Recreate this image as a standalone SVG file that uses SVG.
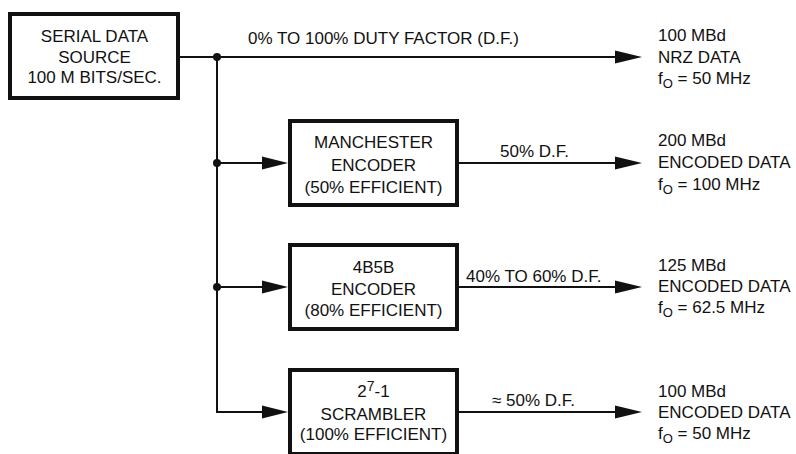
<svg xmlns="http://www.w3.org/2000/svg" width="796" height="454" viewBox="0 0 796 454">
<style>
text{font-family:"Liberation Sans",Arial,Helvetica,sans-serif;font-size:17px;fill:#111}
.c{text-anchor:middle}
.box{fill:#fff;stroke:#111;stroke-width:4}
.ln{stroke:#111;stroke-width:2;fill:none}
.ah{fill:#111}
.sub{font-size:13px}
.sup{font-size:14px}
</style>
<rect width="796" height="454" fill="#fff"/>
<g id="connectors">
<path class="ln" d="M180 57H620"/>
<path class="ln" d="M217 57V412H266"/>
<path class="ln" d="M217 163H266"/>
<path class="ln" d="M217 287H266"/>
<path class="ln" d="M459 163H620"/>
<path class="ln" d="M459 287H620"/>
<path class="ln" d="M459 412H620"/>
<circle cx="217" cy="57" r="4" class="ah"/>
<circle cx="217" cy="163" r="4" class="ah"/>
<circle cx="217" cy="287" r="4" class="ah"/>
<polygon class="ah" points="615,50.5 642,57 615,63.5"/>
<polygon class="ah" points="615,156.5 642,163 615,169.5"/>
<polygon class="ah" points="615,280.5 642,287 615,293.5"/>
<polygon class="ah" points="615,405.5 642,412 615,418.5"/>
<polygon class="ah" points="262,156.5 288,163 262,169.5"/>
<polygon class="ah" points="262,280.5 288,287 262,293.5"/>
<polygon class="ah" points="262,405.5 288,412 262,418.5"/>
<text x="248" y="44">0% TO 100% DUTY FACTOR (D.F.)</text>
<text x="500" y="157">50% D.F.</text>
<text x="466" y="282">40% TO 60% D.F.</text>
<text x="492" y="406">≈ 50% D.F.</text>
</g>
<g id="source">
<rect class="box" x="10" y="14" width="168" height="84"/>
<text class="c" x="94.5" y="42">SERIAL DATA</text>
<text class="c" x="94.5" y="63">SOURCE</text>
<text class="c" x="94.5" y="83">100 M BITS/SEC.</text>
</g>
<g id="manchester">
<rect class="box" x="290" y="121" width="167" height="84"/>
<text class="c" x="373.5" y="148">MANCHESTER</text>
<text class="c" x="373.5" y="171">ENCODER</text>
<text class="c" x="373.5" y="193">(50% EFFICIENT)</text>
</g>
<g id="enc4b5b">
<rect class="box" x="290" y="245" width="167" height="84"/>
<text class="c" x="373.5" y="273">4B5B</text>
<text class="c" x="373.5" y="295">ENCODER</text>
<text class="c" x="373.5" y="316">(80% EFFICIENT)</text>
</g>
<g id="scrambler">
<rect class="box" x="290" y="370" width="167" height="84"/>
<text class="c" x="373.5" y="397">2<tspan class="sup" dy="-6">7</tspan><tspan dy="6">-1</tspan></text>
<text class="c" x="373.5" y="420">SCRAMBLER</text>
<text class="c" x="373.5" y="440">(100% EFFICIENT)</text>
</g>
<g id="out-nrz">
<text x="658" y="41">100 MBd</text>
<text x="658" y="63">NRZ DATA</text>
<text x="658" y="84">f<tspan class="sub" dy="4">O</tspan><tspan dy="-4"> = 50 MHz</tspan></text>
</g>
<g id="out-manchester">
<text x="658" y="146">200 MBd</text>
<text x="658" y="168">ENCODED DATA</text>
<text x="658" y="190">f<tspan class="sub" dy="4">O</tspan><tspan dy="-4"> = 100 MHz</tspan></text>
</g>
<g id="out-4b5b">
<text x="658" y="271">125 MBd</text>
<text x="658" y="292">ENCODED DATA</text>
<text x="658" y="313">f<tspan class="sub" dy="4">O</tspan><tspan dy="-4"> = 62.5 MHz</tspan></text>
</g>
<g id="out-scrambler">
<text x="658" y="397">100 MBd</text>
<text x="658" y="418">ENCODED DATA</text>
<text x="658" y="439">f<tspan class="sub" dy="4">O</tspan><tspan dy="-4"> = 50 MHz</tspan></text>
</g>
</svg>
